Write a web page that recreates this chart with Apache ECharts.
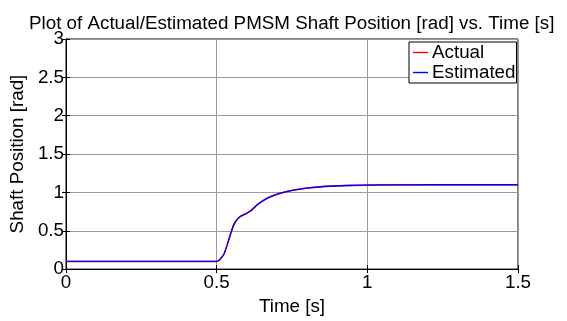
<!DOCTYPE html>
<html>
<head>
<meta charset="utf-8">
<script src="https://cdn.jsdelivr.net/npm/echarts@6/dist/echarts.min.js"></script>
<style>html,body{margin:0;padding:0;background:#fff}#c{width:567px;height:321px}</style>
</head>
<body>
<div id="c"></div>
<script>
const timeS = [0, 0.5, 0.502, 0.507, 0.515, 0.524, 0.535, 0.546, 0.557, 0.568, 0.579, 0.596, 0.613, 0.635, 0.657, 0.679, 0.712, 0.756, 0.8, 0.855, 0.933, 1.043, 1.2, 1.5];
const actualPos = [0.1, 0.1, 0.102, 0.113, 0.145, 0.194, 0.316, 0.458, 0.58, 0.648, 0.689, 0.72, 0.76, 0.84, 0.9, 0.944, 0.99, 1.03, 1.057, 1.077, 1.09, 1.097, 1.1, 1.1];
const estimatedPos = [0.1, 0.1, 0.102, 0.113, 0.145, 0.194, 0.316, 0.458, 0.58, 0.648, 0.689, 0.72, 0.76, 0.84, 0.9, 0.944, 0.99, 1.03, 1.057, 1.077, 1.09, 1.097, 1.1, 1.1];
const xTicks = [0, 0.5, 1, 1.5];
const yTicks = [0, 0.5, 1, 1.5, 2, 2.5, 3];

const font = 'Liberation Sans, Arial, sans-serif';
const fs = 18.8;
const chart = echarts.init(document.getElementById('c'), null, {renderer: 'canvas'});
const pair = (xs, ys) => xs.map((x, i) => [x, ys[i]]);
const fmt = v => String(v);

chart.setOption({
  animation: false,
  backgroundColor: '#fff',
  title: {
    text: 'Plot of Actual/Estimated PMSM Shaft Position [rad] vs. Time [s]',
    left: 24, top: 9,
    textStyle: {fontFamily: font, fontSize: fs, fontWeight: 'normal', color: '#000'}
  },
  grid: {left: 65, right: 49, top: 39, bottom: 35, show: true, borderColor: '#000', borderWidth: 1, containLabel: false},
  legend: {
    orient: 'vertical', left: 409, top: 42,
    data: ['Actual', 'Estimated'],
    icon: 'rect', itemWidth: 15, itemHeight: 1.4, itemGap: 1,
    padding: [1, 1, 1, 4],
    borderColor: '#000', borderWidth: 1, backgroundColor: '#fff',
    textStyle: {fontFamily: font, fontSize: fs, color: '#000', padding: [0, 0, 0, -1]}
  },
  xAxis: [{
    type: 'value', min: 0, max: 1.5, interval: 0.5,
    name: 'Time [s]', nameLocation: 'middle', nameGap: 21,
    nameTextStyle: {fontFamily: font, fontSize: fs, color: '#000'},
    axisLine: {show: true, onZero: false, lineStyle: {color: '#000', width: 1}},
    axisTick: {show: true, inside: true, length: 4, lineStyle: {color: '#000'}},
    axisLabel: {fontFamily: font, fontSize: fs, color: '#000', margin: 4,
      formatter: v => xTicks.includes(v) ? fmt(v) : ''},
    splitLine: {show: true, lineStyle: {color: '#9a9a9a', width: 1}}
  }, {
    type: 'value', position: 'top', min: 0, max: 1.5, interval: 0.5,
    axisLine: {show: true, lineStyle: {color: '#000'}},
    axisTick: {show: true, inside: true, length: 4, lineStyle: {color: '#000'}},
    axisLabel: {show: false}, splitLine: {show: false}
  }],
  yAxis: [{
    type: 'value', min: 0, max: 3, interval: 0.5,
    name: 'Shaft Position [rad]', nameLocation: 'middle', nameGap: 30,
    nameTextStyle: {fontFamily: font, fontSize: fs, color: '#000'},
    axisLine: {show: true, onZero: false, lineStyle: {color: '#000', width: 1}},
    axisTick: {show: true, inside: true, length: 4, lineStyle: {color: '#000'}},
    axisLabel: {fontFamily: font, fontSize: fs, color: '#000', margin: 2,
      formatter: v => yTicks.includes(v) ? fmt(v) : ''},
    splitLine: {show: true, lineStyle: {color: '#9a9a9a', width: 1}}
  }, {
    type: 'value', position: 'right', min: 0, max: 3, interval: 0.5,
    axisLine: {show: true, lineStyle: {color: '#000'}},
    axisTick: {show: true, inside: true, length: 4, lineStyle: {color: '#000'}},
    axisLabel: {show: false}, splitLine: {show: false}
  }],
  series: [{
    name: 'Actual', type: 'line', data: pair(timeS, actualPos),
    showSymbol: false, smooth: 0.2, color: '#ff0000',
    lineStyle: {color: '#ff0000', width: 1.5}
  }, {
    name: 'Estimated', type: 'line', data: pair(timeS, estimatedPos),
    showSymbol: false, smooth: 0.2, color: '#0000ff',
    lineStyle: {color: '#0000ff', width: 1.3}
  }]
});
</script>
</body>
</html>
